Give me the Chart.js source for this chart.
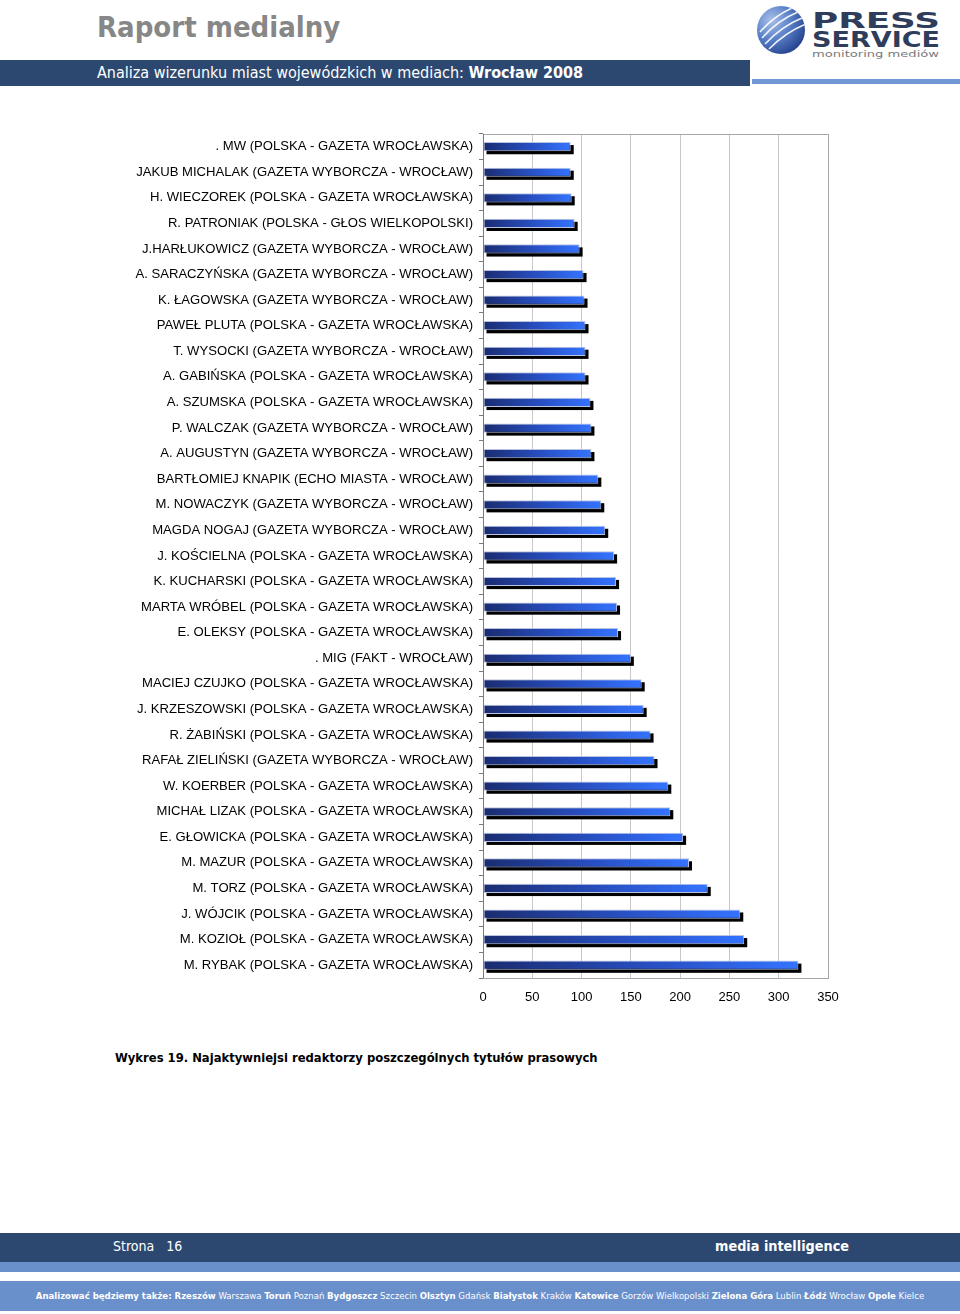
<!DOCTYPE html>
<html lang="pl">
<head>
<meta charset="utf-8">
<title>Raport medialny – Wykres 19</title>
<script src="https://cdn.jsdelivr.net/npm/chart.js@4.4.1/dist/chart.umd.min.js"></script>
<style>
  html, body { margin: 0; padding: 0; background: #fff; }
  body { width: 960px; height: 1314px; position: relative; overflow: hidden; font-family: "DejaVu Sans Condensed", "DejaVu Sans", sans-serif; }
  .title { position: absolute; left: 97px; top: 10px; font-size: 29px; font-weight: bold; color: #878787; letter-spacing: 0; }
  .hbar { position: absolute; left: 0; top: 60px; width: 750px; height: 26px; background: #2d4870; }
  .hbar span { position: absolute; left: 97px; top: 3px; color: #fff; font-size: 16px; white-space: nowrap; }
  .hstrip { position: absolute; left: 752px; top: 79px; width: 208px; height: 5px; background: #7198d2; }
  .logo { position: absolute; left: 752px; top: 2px; }
  #wrap { position: absolute; left: 0; top: 120px; width: 960px; height: 890px; }
  .caption { position: absolute; left: 115px; top: 1051px; font-family: "DejaVu Sans", sans-serif; font-weight: bold; font-size: 11.6px; color: #000; white-space: nowrap; }
  .fbar { position: absolute; left: 0; top: 1233px; width: 960px; height: 29px; background: #2d4870; color: #fff; }
  .fbar .page { position: absolute; left: 113px; top: 5px; font-size: 14px; }
  .fbar .mi { position: absolute; left: 715px; top: 5px; font-size: 14.3px; font-weight: bold; }
  .fstrip { position: absolute; left: 0; top: 1262px; width: 960px; height: 10px; background: #6a90cc; }
  .fbar2 { position: absolute; left: 0; top: 1281px; width: 960px; height: 30px; background: #6a90cc; color: #fff; font-size: 9.5px; text-align: center; line-height: 30px; white-space: nowrap; }
  .fbar2 b { font-weight: bold; }
</style>
</head>
<body>
<div class="title">Raport medialny</div>
<div class="hbar"><span>Analiza wizerunku miast wojewódzkich w mediach: <b>Wrocław 2008</b></span></div>
<div class="hstrip"></div>
<svg class="logo" width="208" height="60" viewBox="0 0 208 60">
  <defs>
    <radialGradient id="lg" cx="0.3" cy="0.3" r="0.8">
      <stop offset="0" stop-color="#a9c0ea"/>
      <stop offset="0.5" stop-color="#5a80c8"/>
      <stop offset="1" stop-color="#23408a"/>
    </radialGradient>
    <clipPath id="lc"><circle cx="29" cy="28" r="24"/></clipPath>
  </defs>
  <circle cx="29" cy="28" r="24" fill="url(#lg)"/>
  <g clip-path="url(#lc)" stroke="#fff" stroke-width="1.6" fill="none" opacity="0.9">
    <path d="M8 30 Q22 14 40 6"/>
    <path d="M10 36 Q26 18 46 10"/>
    <path d="M13 42 Q30 24 50 16"/>
    <path d="M17 47 Q34 30 54 22"/>
  </g>
  <text x="60" y="26" font-family="DejaVu Sans" font-weight="bold" font-size="22" fill="#2f3d5c" textLength="128" lengthAdjust="spacingAndGlyphs">PRESS</text>
  <text x="60" y="45" font-family="DejaVu Sans" font-weight="bold" font-size="21" fill="#2f3d5c" textLength="128" lengthAdjust="spacingAndGlyphs">SERVICE</text>
  <text x="60" y="55" font-family="DejaVu Sans" font-size="9.5" fill="#7a7a7a" textLength="127" lengthAdjust="spacingAndGlyphs">monitoring mediów</text>
</svg>

<div id="wrap"><canvas id="chart"></canvas></div>

<div class="caption">Wykres 19. Najaktywniejsi redaktorzy poszczególnych tytułów prasowych</div>

<div class="fbar"><span class="page">Strona&nbsp;&nbsp;&nbsp;16</span><span class="mi">media intelligence</span></div>
<div class="fstrip"></div>
<div class="fbar2"><b>Analizować będziemy także: Rzeszów</b> Warszawa <b>Toruń</b> Poznań <b>Bydgoszcz</b> Szczecin <b>Olsztyn</b> Gdańsk <b>Białystok</b> Kraków <b>Katowice</b> Gorzów Wielkopolski <b>Zielona Góra</b> Lublin <b>Łódź</b> Wrocław <b>Opole</b> Kielce</div>

<script>
/* Editors listed top to bottom, as in the report. */
const editors = [
  '. MW (POLSKA - GAZETA WROCŁAWSKA)',
  'JAKUB MICHALAK (GAZETA WYBORCZA - WROCŁAW)',
  'H. WIECZOREK (POLSKA - GAZETA WROCŁAWSKA)',
  'R. PATRONIAK (POLSKA - GŁOS WIELKOPOLSKI)',
  'J.HARŁUKOWICZ (GAZETA WYBORCZA - WROCŁAW)',
  'A. SARACZYŃSKA (GAZETA WYBORCZA - WROCŁAW)',
  'K. ŁAGOWSKA (GAZETA WYBORCZA - WROCŁAW)',
  'PAWEŁ PLUTA (POLSKA - GAZETA WROCŁAWSKA)',
  'T. WYSOCKI (GAZETA WYBORCZA - WROCŁAW)',
  'A. GABIŃSKA (POLSKA - GAZETA WROCŁAWSKA)',
  'A. SZUMSKA (POLSKA - GAZETA WROCŁAWSKA)',
  'P. WALCZAK (GAZETA WYBORCZA - WROCŁAW)',
  'A. AUGUSTYN (GAZETA WYBORCZA - WROCŁAW)',
  'BARTŁOMIEJ KNAPIK (ECHO MIASTA - WROCŁAW)',
  'M. NOWACZYK (GAZETA WYBORCZA - WROCŁAW)',
  'MAGDA NOGAJ (GAZETA WYBORCZA - WROCŁAW)',
  'J. KOŚCIELNA (POLSKA - GAZETA WROCŁAWSKA)',
  'K. KUCHARSKI (POLSKA - GAZETA WROCŁAWSKA)',
  'MARTA WRÓBEL (POLSKA - GAZETA WROCŁAWSKA)',
  'E. OLEKSY (POLSKA - GAZETA WROCŁAWSKA)',
  '. MIG (FAKT - WROCŁAW)',
  'MACIEJ CZUJKO (POLSKA - GAZETA WROCŁAWSKA)',
  'J. KRZESZOWSKI (POLSKA - GAZETA WROCŁAWSKA)',
  'R. ŻABIŃSKI (POLSKA - GAZETA WROCŁAWSKA)',
  'RAFAŁ ZIELIŃSKI (GAZETA WYBORCZA - WROCŁAW)',
  'W. KOERBER (POLSKA - GAZETA WROCŁAWSKA)',
  'MICHAŁ LIZAK (POLSKA - GAZETA WROCŁAWSKA)',
  'E. GŁOWICKA (POLSKA - GAZETA WROCŁAWSKA)',
  'M. MAZUR (POLSKA - GAZETA WROCŁAWSKA)',
  'M. TORZ (POLSKA - GAZETA WROCŁAWSKA)',
  'J. WÓJCIK (POLSKA - GAZETA WROCŁAWSKA)',
  'M. KOZIOŁ (POLSKA - GAZETA WROCŁAWSKA)',
  'M. RYBAK (POLSKA - GAZETA WROCŁAWSKA)',
];

/* Number of articles per editor. */
const articles = [
  89, 89, 90, 93, 98, 102, 103, 104, 104, 104, 109,
  110, 110, 117, 120, 124, 133, 135, 136, 137, 150, 161,
  163, 170, 174, 188, 190, 203, 209, 228, 261, 265, 320,
];

/* Value axis. */
const axisMin = 0;
const axisMax = 350;
const axisStep = 50;

/* Flat black drop shadow behind each bar, taken from the bar elements. */
const barShadow = {
  id: 'barShadow',
  beforeDatasetsDraw(chart) {
    const ctx = chart.ctx;
    ctx.save();
    ctx.fillStyle = '#000';
    chart.getDatasetMeta(0).data.forEach((bar) => {
      const p = bar.getProps(['x', 'y', 'base', 'height'], true);
      const left = Math.min(p.x, p.base);
      const w = Math.abs(p.x - p.base);
      ctx.fillRect(left + 3, p.y - p.height / 2 + 3, w, p.height);
    });
    ctx.restore();
  },
};

/* Grey frame round the plot area. */
const plotFrame = {
  id: 'plotFrame',
  afterDraw(chart) {
    const { ctx, chartArea: a } = chart;
    ctx.save();
    ctx.strokeStyle = '#a8a8a8';
    ctx.lineWidth = 1;
    ctx.strokeRect(Math.round(a.left) + 0.5, Math.round(a.top) + 0.5,
      Math.round(a.right - a.left), Math.round(a.bottom - a.top));
    ctx.strokeStyle = '#7a7a7a';
    ctx.beginPath();
    ctx.moveTo(Math.round(a.left) + 0.5, a.top);
    ctx.lineTo(Math.round(a.left) + 0.5, a.bottom);
    ctx.stroke();
    ctx.restore();
  },
};

function barGradient(c) {
  const chart = c.chart;
  const area = chart.chartArea;
  if (!area || c.raw == null) return '#2a55c8';
  const x0 = area.left;
  const x1 = chart.scales.x.getPixelForValue(c.raw);
  const g = chart.ctx.createLinearGradient(x0, 0, x1, 0);
  g.addColorStop(0, '#1a2c70');
  g.addColorStop(0.55, '#2850c4');
  g.addColorStop(1, '#3473ff');
  return g;
}

new Chart(document.getElementById('chart'), {
  type: 'bar',
  data: {
    labels: editors,
    datasets: [{
      data: articles,
      backgroundColor: barGradient,
      borderColor: '#b9c3df',
      borderWidth: 1,
      borderSkipped: false,
      categoryPercentage: 1,
      barPercentage: 0.36,
    }],
  },
  options: {
    indexAxis: 'y',
    responsive: true,
    maintainAspectRatio: false,
    animation: false,
    layout: { padding: { top: 13, right: 132, bottom: 0, left: 0 } },
    scales: {
      x: {
        min: axisMin,
        max: axisMax,
        border: { display: false },
        grid: { color: '#c8c8c8', lineWidth: 1, drawTicks: false },
        ticks: {
          stepSize: axisStep,
          color: '#000',
          padding: 12,
          font: { family: 'Liberation Sans, Arial, sans-serif', size: 13 },
        },
        afterFit: (s) => { s.height = 32; },
      },
      y: {
        border: { display: false },
        grid: { drawOnChartArea: false, color: '#7a7a7a', tickLength: 4, offset: true },
        ticks: {
          color: '#000',
          padding: 6,
          autoSkip: false,
          font: { family: 'Liberation Sans, Arial, sans-serif', size: 13.1 },
        },
        afterFit: (s) => { s.width = 483; },
      },
    },
    plugins: {
      legend: { display: false },
      tooltip: { enabled: false },
    },
  },
  plugins: [barShadow, plotFrame],
});
</script>
</body>
</html>
